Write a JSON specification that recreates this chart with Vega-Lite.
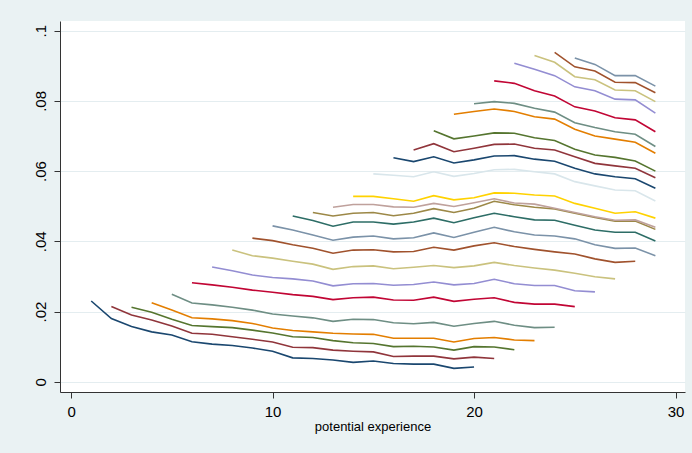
{
  "$schema": "https://vega.github.io/schema/vega-lite/v6.json",
  "width": 625,
  "height": 371,
  "autosize": {"type": "none"},
  "padding": {"left": 60, "top": 21, "right": 7, "bottom": 61},
  "background": "#eaf2f3",
  "config": {
    "view": {"fill": "white", "stroke": null},
    "font": "Liberation Sans Narrow, Liberation Sans, Arial, sans-serif"
  },
  "data": {
    "values": [
      {"c":1,"x":1,"y":0.0230},{"c":1,"x":2,"y":0.0180},{"c":1,"x":3,"y":0.0157},{"c":1,"x":4,"y":0.0142},{"c":1,"x":5,"y":0.0133},{"c":1,"x":6,"y":0.0114},{"c":1,"x":7,"y":0.0107},{"c":1,"x":8,"y":0.0103},{"c":1,"x":9,"y":0.0096},{"c":1,"x":10,"y":0.0087},{"c":1,"x":11,"y":0.0068},{"c":1,"x":12,"y":0.0066},{"c":1,"x":13,"y":0.0062},{"c":1,"x":14,"y":0.0055},{"c":1,"x":15,"y":0.0059},{"c":1,"x":16,"y":0.0052},{"c":1,"x":17,"y":0.0050},{"c":1,"x":18,"y":0.0050},{"c":1,"x":19,"y":0.0038},{"c":1,"x":20,"y":0.0042},
      {"c":2,"x":2,"y":0.0214},{"c":2,"x":3,"y":0.0190},{"c":2,"x":4,"y":0.0176},{"c":2,"x":5,"y":0.0159},{"c":2,"x":6,"y":0.0138},{"c":2,"x":7,"y":0.0135},{"c":2,"x":8,"y":0.0128},{"c":2,"x":9,"y":0.0121},{"c":2,"x":10,"y":0.0113},{"c":2,"x":11,"y":0.0098},{"c":2,"x":12,"y":0.0097},{"c":2,"x":13,"y":0.0090},{"c":2,"x":14,"y":0.0087},{"c":2,"x":15,"y":0.0085},{"c":2,"x":16,"y":0.0072},{"c":2,"x":17,"y":0.0073},{"c":2,"x":18,"y":0.0073},{"c":2,"x":19,"y":0.0065},{"c":2,"x":20,"y":0.0070},{"c":2,"x":21,"y":0.0066},
      {"c":3,"x":3,"y":0.0212},{"c":3,"x":4,"y":0.0198},{"c":3,"x":5,"y":0.0178},{"c":3,"x":6,"y":0.0160},{"c":3,"x":7,"y":0.0157},{"c":3,"x":8,"y":0.0154},{"c":3,"x":9,"y":0.0147},{"c":3,"x":10,"y":0.0139},{"c":3,"x":11,"y":0.0128},{"c":3,"x":12,"y":0.0126},{"c":3,"x":13,"y":0.0117},{"c":3,"x":14,"y":0.0111},{"c":3,"x":15,"y":0.0109},{"c":3,"x":16,"y":0.0100},{"c":3,"x":17,"y":0.0101},{"c":3,"x":18,"y":0.0099},{"c":3,"x":19,"y":0.0090},{"c":3,"x":20,"y":0.0100},{"c":3,"x":21,"y":0.0099},{"c":3,"x":22,"y":0.0091},
      {"c":4,"x":4,"y":0.0225},{"c":4,"x":5,"y":0.0204},{"c":4,"x":6,"y":0.0182},{"c":4,"x":7,"y":0.0179},{"c":4,"x":8,"y":0.0174},{"c":4,"x":9,"y":0.0166},{"c":4,"x":10,"y":0.0153},{"c":4,"x":11,"y":0.0146},{"c":4,"x":12,"y":0.0142},{"c":4,"x":13,"y":0.0138},{"c":4,"x":14,"y":0.0136},{"c":4,"x":15,"y":0.0135},{"c":4,"x":16,"y":0.0124},{"c":4,"x":17,"y":0.0124},{"c":4,"x":18,"y":0.0124},{"c":4,"x":19,"y":0.0113},{"c":4,"x":20,"y":0.0123},{"c":4,"x":21,"y":0.0126},{"c":4,"x":22,"y":0.0119},{"c":4,"x":23,"y":0.0117},
      {"c":5,"x":5,"y":0.0249},{"c":5,"x":6,"y":0.0224},{"c":5,"x":7,"y":0.0219},{"c":5,"x":8,"y":0.0212},{"c":5,"x":9,"y":0.0204},{"c":5,"x":10,"y":0.0193},{"c":5,"x":11,"y":0.0187},{"c":5,"x":12,"y":0.0182},{"c":5,"x":13,"y":0.0172},{"c":5,"x":14,"y":0.0178},{"c":5,"x":15,"y":0.0177},{"c":5,"x":16,"y":0.0168},{"c":5,"x":17,"y":0.0165},{"c":5,"x":18,"y":0.0169},{"c":5,"x":19,"y":0.0158},{"c":5,"x":20,"y":0.0166},{"c":5,"x":21,"y":0.0172},{"c":5,"x":22,"y":0.0161},{"c":5,"x":23,"y":0.0154},{"c":5,"x":24,"y":0.0155},
      {"c":6,"x":6,"y":0.0282},{"c":6,"x":7,"y":0.0276},{"c":6,"x":8,"y":0.0269},{"c":6,"x":9,"y":0.0261},{"c":6,"x":10,"y":0.0255},{"c":6,"x":11,"y":0.0248},{"c":6,"x":12,"y":0.0243},{"c":6,"x":13,"y":0.0234},{"c":6,"x":14,"y":0.0239},{"c":6,"x":15,"y":0.0241},{"c":6,"x":16,"y":0.0233},{"c":6,"x":17,"y":0.0232},{"c":6,"x":18,"y":0.0241},{"c":6,"x":19,"y":0.0229},{"c":6,"x":20,"y":0.0235},{"c":6,"x":21,"y":0.0239},{"c":6,"x":22,"y":0.0226},{"c":6,"x":23,"y":0.0221},{"c":6,"x":24,"y":0.0221},{"c":6,"x":25,"y":0.0214},
      {"c":7,"x":7,"y":0.0327},{"c":7,"x":8,"y":0.0316},{"c":7,"x":9,"y":0.0304},{"c":7,"x":10,"y":0.0297},{"c":7,"x":11,"y":0.0293},{"c":7,"x":12,"y":0.0287},{"c":7,"x":13,"y":0.0273},{"c":7,"x":14,"y":0.0279},{"c":7,"x":15,"y":0.0280},{"c":7,"x":16,"y":0.0275},{"c":7,"x":17,"y":0.0277},{"c":7,"x":18,"y":0.0284},{"c":7,"x":19,"y":0.0276},{"c":7,"x":20,"y":0.0280},{"c":7,"x":21,"y":0.0292},{"c":7,"x":22,"y":0.0279},{"c":7,"x":23,"y":0.0274},{"c":7,"x":24,"y":0.0274},{"c":7,"x":25,"y":0.0259},{"c":7,"x":26,"y":0.0256},
      {"c":8,"x":8,"y":0.0375},{"c":8,"x":9,"y":0.0359},{"c":8,"x":10,"y":0.0352},{"c":8,"x":11,"y":0.0343},{"c":8,"x":12,"y":0.0335},{"c":8,"x":13,"y":0.0320},{"c":8,"x":14,"y":0.0328},{"c":8,"x":15,"y":0.0330},{"c":8,"x":16,"y":0.0322},{"c":8,"x":17,"y":0.0326},{"c":8,"x":18,"y":0.0331},{"c":8,"x":19,"y":0.0325},{"c":8,"x":20,"y":0.0330},{"c":8,"x":21,"y":0.0340},{"c":8,"x":22,"y":0.0331},{"c":8,"x":23,"y":0.0324},{"c":8,"x":24,"y":0.0318},{"c":8,"x":25,"y":0.0309},{"c":8,"x":26,"y":0.0299},{"c":8,"x":27,"y":0.0293},
      {"c":9,"x":9,"y":0.0409},{"c":9,"x":10,"y":0.0402},{"c":9,"x":11,"y":0.0390},{"c":9,"x":12,"y":0.0380},{"c":9,"x":13,"y":0.0366},{"c":9,"x":14,"y":0.0375},{"c":9,"x":15,"y":0.0376},{"c":9,"x":16,"y":0.0370},{"c":9,"x":17,"y":0.0371},{"c":9,"x":18,"y":0.0383},{"c":9,"x":19,"y":0.0375},{"c":9,"x":20,"y":0.0387},{"c":9,"x":21,"y":0.0396},{"c":9,"x":22,"y":0.0385},{"c":9,"x":23,"y":0.0377},{"c":9,"x":24,"y":0.0370},{"c":9,"x":25,"y":0.0364},{"c":9,"x":26,"y":0.0350},{"c":9,"x":27,"y":0.0340},{"c":9,"x":28,"y":0.0343},
      {"c":10,"x":10,"y":0.0444},{"c":10,"x":11,"y":0.0432},{"c":10,"x":12,"y":0.0418},{"c":10,"x":13,"y":0.0403},{"c":10,"x":14,"y":0.0412},{"c":10,"x":15,"y":0.0415},{"c":10,"x":16,"y":0.0407},{"c":10,"x":17,"y":0.0410},{"c":10,"x":18,"y":0.0424},{"c":10,"x":19,"y":0.0411},{"c":10,"x":20,"y":0.0426},{"c":10,"x":21,"y":0.0440},{"c":10,"x":22,"y":0.0427},{"c":10,"x":23,"y":0.0418},{"c":10,"x":24,"y":0.0415},{"c":10,"x":25,"y":0.0407},{"c":10,"x":26,"y":0.0390},{"c":10,"x":27,"y":0.0380},{"c":10,"x":28,"y":0.0381},{"c":10,"x":29,"y":0.0359},
      {"c":11,"x":11,"y":0.0472},{"c":11,"x":12,"y":0.0459},{"c":11,"x":13,"y":0.0443},{"c":11,"x":14,"y":0.0455},{"c":11,"x":15,"y":0.0455},{"c":11,"x":16,"y":0.0449},{"c":11,"x":17,"y":0.0455},{"c":11,"x":18,"y":0.0466},{"c":11,"x":19,"y":0.0453},{"c":11,"x":20,"y":0.0467},{"c":11,"x":21,"y":0.0480},{"c":11,"x":22,"y":0.0470},{"c":11,"x":23,"y":0.0461},{"c":11,"x":24,"y":0.0460},{"c":11,"x":25,"y":0.0446},{"c":11,"x":26,"y":0.0432},{"c":11,"x":27,"y":0.0426},{"c":11,"x":28,"y":0.0426},{"c":11,"x":29,"y":0.0401},
      {"c":12,"x":12,"y":0.0482},{"c":12,"x":13,"y":0.0472},{"c":12,"x":14,"y":0.0480},{"c":12,"x":15,"y":0.0482},{"c":12,"x":16,"y":0.0473},{"c":12,"x":17,"y":0.0480},{"c":12,"x":18,"y":0.0493},{"c":12,"x":19,"y":0.0482},{"c":12,"x":20,"y":0.0494},{"c":12,"x":21,"y":0.0514},{"c":12,"x":22,"y":0.0504},{"c":12,"x":23,"y":0.0497},{"c":12,"x":24,"y":0.0492},{"c":12,"x":25,"y":0.0480},{"c":12,"x":26,"y":0.0468},{"c":12,"x":27,"y":0.0457},{"c":12,"x":28,"y":0.0458},{"c":12,"x":29,"y":0.0434},
      {"c":13,"x":13,"y":0.0497},{"c":13,"x":14,"y":0.0505},{"c":13,"x":15,"y":0.0505},{"c":13,"x":16,"y":0.0498},{"c":13,"x":17,"y":0.0497},{"c":13,"x":18,"y":0.0508},{"c":13,"x":19,"y":0.0499},{"c":13,"x":20,"y":0.0510},{"c":13,"x":21,"y":0.0521},{"c":13,"x":22,"y":0.0509},{"c":13,"x":23,"y":0.0506},{"c":13,"x":24,"y":0.0494},{"c":13,"x":25,"y":0.0482},{"c":13,"x":26,"y":0.0470},{"c":13,"x":27,"y":0.0460},{"c":13,"x":28,"y":0.0461},{"c":13,"x":29,"y":0.0440},
      {"c":14,"x":14,"y":0.0528},{"c":14,"x":15,"y":0.0528},{"c":14,"x":16,"y":0.0521},{"c":14,"x":17,"y":0.0514},{"c":14,"x":18,"y":0.0530},{"c":14,"x":19,"y":0.0518},{"c":14,"x":20,"y":0.0524},{"c":14,"x":21,"y":0.0538},{"c":14,"x":22,"y":0.0537},{"c":14,"x":23,"y":0.0532},{"c":14,"x":24,"y":0.0529},{"c":14,"x":25,"y":0.0508},{"c":14,"x":26,"y":0.0494},{"c":14,"x":27,"y":0.0480},{"c":14,"x":28,"y":0.0484},{"c":14,"x":29,"y":0.0466},
      {"c":15,"x":15,"y":0.0592},{"c":15,"x":16,"y":0.0588},{"c":15,"x":17,"y":0.0584},{"c":15,"x":18,"y":0.0598},{"c":15,"x":19,"y":0.0585},{"c":15,"x":20,"y":0.0593},{"c":15,"x":21,"y":0.0604},{"c":15,"x":22,"y":0.0605},{"c":15,"x":23,"y":0.0598},{"c":15,"x":24,"y":0.0592},{"c":15,"x":25,"y":0.0570},{"c":15,"x":26,"y":0.0558},{"c":15,"x":27,"y":0.0546},{"c":15,"x":28,"y":0.0544},{"c":15,"x":29,"y":0.0515},
      {"c":16,"x":16,"y":0.0638},{"c":16,"x":17,"y":0.0627},{"c":16,"x":18,"y":0.0641},{"c":16,"x":19,"y":0.0623},{"c":16,"x":20,"y":0.0632},{"c":16,"x":21,"y":0.0643},{"c":16,"x":22,"y":0.0644},{"c":16,"x":23,"y":0.0634},{"c":16,"x":24,"y":0.0628},{"c":16,"x":25,"y":0.0608},{"c":16,"x":26,"y":0.0592},{"c":16,"x":27,"y":0.0584},{"c":16,"x":28,"y":0.0578},{"c":16,"x":29,"y":0.0551},
      {"c":17,"x":17,"y":0.0660},{"c":17,"x":18,"y":0.0678},{"c":17,"x":19,"y":0.0655},{"c":17,"x":20,"y":0.0665},{"c":17,"x":21,"y":0.0676},{"c":17,"x":22,"y":0.0677},{"c":17,"x":23,"y":0.0665},{"c":17,"x":24,"y":0.0660},{"c":17,"x":25,"y":0.0641},{"c":17,"x":26,"y":0.0622},{"c":17,"x":27,"y":0.0615},{"c":17,"x":28,"y":0.0608},{"c":17,"x":29,"y":0.0581},
      {"c":18,"x":18,"y":0.0715},{"c":18,"x":19,"y":0.0692},{"c":18,"x":20,"y":0.0700},{"c":18,"x":21,"y":0.0709},{"c":18,"x":22,"y":0.0708},{"c":18,"x":23,"y":0.0695},{"c":18,"x":24,"y":0.0687},{"c":18,"x":25,"y":0.0662},{"c":18,"x":26,"y":0.0646},{"c":18,"x":27,"y":0.0639},{"c":18,"x":28,"y":0.0629},{"c":18,"x":29,"y":0.0600},
      {"c":19,"x":19,"y":0.0762},{"c":19,"x":20,"y":0.0770},{"c":19,"x":21,"y":0.0777},{"c":19,"x":22,"y":0.0770},{"c":19,"x":23,"y":0.0755},{"c":19,"x":24,"y":0.0748},{"c":19,"x":25,"y":0.0719},{"c":19,"x":26,"y":0.0700},{"c":19,"x":27,"y":0.0691},{"c":19,"x":28,"y":0.0682},{"c":19,"x":29,"y":0.0651},
      {"c":20,"x":20,"y":0.0792},{"c":20,"x":21,"y":0.0798},{"c":20,"x":22,"y":0.0793},{"c":20,"x":23,"y":0.0779},{"c":20,"x":24,"y":0.0768},{"c":20,"x":25,"y":0.0738},{"c":20,"x":26,"y":0.0724},{"c":20,"x":27,"y":0.0712},{"c":20,"x":28,"y":0.0705},{"c":20,"x":29,"y":0.0670},
      {"c":21,"x":21,"y":0.0857},{"c":21,"x":22,"y":0.0850},{"c":21,"x":23,"y":0.0829},{"c":21,"x":24,"y":0.0814},{"c":21,"x":25,"y":0.0783},{"c":21,"x":26,"y":0.0771},{"c":21,"x":27,"y":0.0752},{"c":21,"x":28,"y":0.0746},{"c":21,"x":29,"y":0.0712},
      {"c":22,"x":22,"y":0.0907},{"c":22,"x":23,"y":0.0890},{"c":22,"x":24,"y":0.0872},{"c":22,"x":25,"y":0.0840},{"c":22,"x":26,"y":0.0829},{"c":22,"x":27,"y":0.0805},{"c":22,"x":28,"y":0.0803},{"c":22,"x":29,"y":0.0765},
      {"c":23,"x":23,"y":0.0929},{"c":23,"x":24,"y":0.0910},{"c":23,"x":25,"y":0.0869},{"c":23,"x":26,"y":0.0860},{"c":23,"x":27,"y":0.0831},{"c":23,"x":28,"y":0.0829},{"c":23,"x":29,"y":0.0798},
      {"c":24,"x":24,"y":0.0938},{"c":24,"x":25,"y":0.0897},{"c":24,"x":26,"y":0.0885},{"c":24,"x":27,"y":0.0853},{"c":24,"x":28,"y":0.0852},{"c":24,"x":29,"y":0.0823},
      {"c":25,"x":25,"y":0.0922},{"c":25,"x":26,"y":0.0904},{"c":25,"x":27,"y":0.0872},{"c":25,"x":28,"y":0.0872},{"c":25,"x":29,"y":0.0842}
    ]
  },
  "mark": {"type": "line", "strokeWidth": 1.6},
  "encoding": {
    "x": {
      "field": "x",
      "type": "quantitative",
      "scale": {"domain": [-0.55, 30.47], "nice": false, "zero": false},
      "axis": {
        "values": [0, 10, 20, 30],
        "grid": false,
        "title": "potential experience",
        "domainColor": "#333333",
        "tickColor": "#333333",
        "tickSize": 6,
        "labelPadding": 6,
        "labelFontSize": 15,
        "labelColor": "#000000",
        "labelFlush": false,
        "titleFontSize": 13,
        "titleFontWeight": "normal",
        "titleColor": "#000000",
        "titlePadding": 1
      }
    },
    "y": {
      "field": "y",
      "type": "quantitative",
      "scale": {"domain": [-0.00293, 0.10276], "nice": false, "zero": false},
      "axis": {
        "values": [0, 0.02, 0.04, 0.06, 0.08, 0.1],
        "labelExpr": "datum.value == 0 ? '0' : replace(format(datum.value, '.2~f'), '0.', '.')",
        "labelAngle": 270,
        "grid": true,
        "gridColor": "#e4edf0",
        "gridWidth": 1.2,
        "title": null,
        "domainColor": "#333333",
        "tickColor": "#333333",
        "tickSize": 6,
        "labelPadding": 6,
        "labelFontSize": 15,
        "labelColor": "#000000",
        "labelFlush": false
      }
    },
    "color": {
      "field": "c",
      "type": "nominal",
      "legend": null,
      "scale": {
        "domain": [1,2,3,4,5,6,7,8,9,10,11,12,13,14,15,16,17,18,19,20,21,22,23,24,25],
        "range": ["#1a476f","#90353b","#55752f","#e37e00","#6e8e84","#c10534","#938dd2","#cac27e","#a0522d","#7b92a8","#2d6d66","#9c8847","#bfa19c","#ffd200","#d9e6eb","#1a476f","#90353b","#55752f","#e37e00","#6e8e84","#c10534","#938dd2","#cac27e","#a0522d","#7b92a8"]
      }
    }
  }
}
